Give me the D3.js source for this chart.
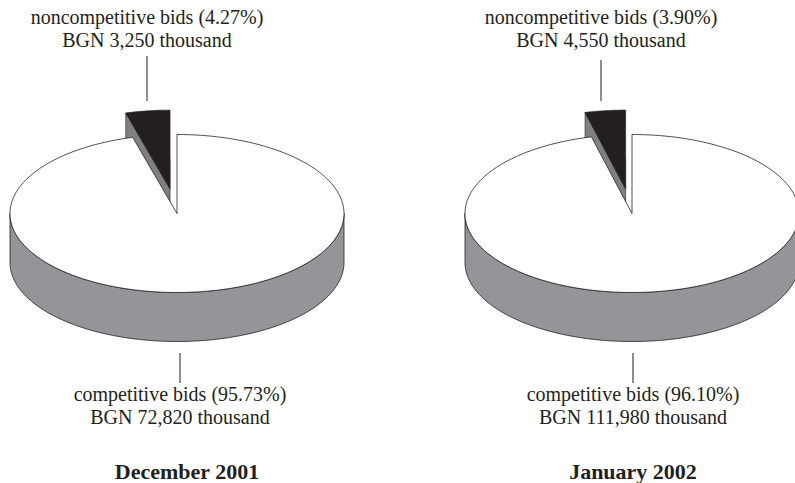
<!DOCTYPE html>
<html><head><meta charset="utf-8">
<script src="https://cdn.jsdelivr.net/npm/d3@7"></script>
<style>
html,body{margin:0;padding:0;background:#fff;}
svg{display:block;}
</style></head>
<body>
<svg id="chart" width="795" height="483"></svg>
<script>
// ---- data ----
const periods = ["December 2001", "January 2002"];
const categories = ["competitive bids", "noncompetitive bids"];
const competitiveValues = [72820, 111980];       // BGN thousand
const noncompetitiveValues = [3250, 4550];       // BGN thousand
const competitiveShares = ["95.73%", "96.10%"];
const noncompetitiveShares = ["4.27%", "3.90%"];
const amountLabels = [["BGN 72,820 thousand", "BGN 3,250 thousand"], ["BGN 111,980 thousand", "BGN 4,550 thousand"]];

// ---- layout ----
const svg = d3.select("#chart");
const FONT = "'Liberation Serif', 'DejaVu Serif', 'Times New Roman', Times, serif";
const centerX = d3.scaleOrdinal().domain(periods).range([177, 632]);
const cy = 213.5, rx = 167, ry = 79, depth = 49;
const explode = 52; // in circle space, scaled by rx
const ink = "#231f20", sideGray = "#939598", faceGray = "#808083", sliceBlack = "#231f20";

const pie = d3.pie().sort(null).value(d => d.value);

function pt(cx, cyy, a) { return [cx + rx * Math.sin(a), cyy - ry * Math.cos(a)]; }

function arcPath(p, cx, cyy, a0, a1, steps) {
  const n = steps || Math.max(8, Math.ceil(Math.abs(a1 - a0) / 0.02));
  for (let i = 0; i <= n; i++) {
    const a = a0 + (a1 - a0) * i / n;
    const [x, y] = pt(cx, cyy, a);
    p.lineTo(x, y);
  }
}

periods.forEach((period, i) => {
  const cx = centerX(period);
  const data = [
    {name: categories[0], value: competitiveValues[i]},
    {name: categories[1], value: noncompetitiveValues[i]}
  ];
  const arcs = pie(data);
  const main = arcs[0], small = arcs[1];
  const g = svg.append("g");

  // exploded small slice
  const mid = (small.startAngle + small.endAngle) / 2;
  const ox = cx + explode * Math.sin(mid);
  const oy = cy - explode * Math.cos(mid) * ry / rx;
  {
    const [x1, y1] = pt(ox, oy, small.startAngle);
    const p = d3.path();
    p.moveTo(ox, oy); p.lineTo(x1, y1); p.lineTo(x1, y1 + depth); p.lineTo(ox, oy + depth); p.closePath();
    g.append("path").attr("d", p.toString()).attr("fill", faceGray).attr("stroke", ink).attr("stroke-width", 0.6).attr("stroke-linejoin", "round");
  }
  {
    const [x2, y2] = pt(ox, oy, small.endAngle);
    g.append("line").attr("x1", ox).attr("y1", oy).attr("x2", x2).attr("y2", y2 + depth)
      .attr("stroke", "#9a9a9c").attr("stroke-width", 1.2);
  }
  {
    const p = d3.path();
    p.moveTo(ox, oy);
    arcPath(p, ox, oy, small.startAngle, small.endAngle);
    p.closePath();
    g.append("path").attr("d", p.toString()).attr("fill", sliceBlack).attr("stroke", ink).attr("stroke-width", 0.6).attr("stroke-linejoin", "round");
  }

  // main pie side wall (front half)
  {
    const p = d3.path();
    const [sx, sy] = pt(cx, cy, Math.PI / 2);
    p.moveTo(sx, sy);
    arcPath(p, cx, cy, Math.PI / 2, 3 * Math.PI / 2);
    const [ex, ey] = pt(cx, cy, 3 * Math.PI / 2);
    p.lineTo(ex, ey + depth);
    arcPath(p, cx, cy + depth, 3 * Math.PI / 2, Math.PI / 2);
    p.closePath();
    g.append("path").attr("d", p.toString()).attr("fill", sideGray).attr("stroke", ink).attr("stroke-width", 0.8).attr("stroke-linejoin", "round");
  }
  // main pie top face
  {
    const p = d3.path();
    p.moveTo(cx, cy);
    const [sx, sy] = pt(cx, cy, main.startAngle);
    p.lineTo(sx, sy);
    arcPath(p, cx, cy, main.startAngle, main.endAngle);
    p.closePath();
    g.append("path").attr("d", p.toString()).attr("fill", "#fff").attr("stroke", ink).attr("stroke-width", 0.8).attr("stroke-linejoin", "miter");
  }

  // labels
  const lx = i === 0 ? 147 : 601;
  const T = (x, y, s, size, weight) => g.append("text").attr("x", x).attr("y", y)
    .attr("text-anchor", "middle").attr("font-family", FONT).attr("font-size", size)
    .attr("font-weight", weight || "normal").attr("fill", ink).text(s);

  g.append("line").attr("x1", lx).attr("x2", lx).attr("y1", i === 0 ? 56 : 60).attr("y2", 101)
    .attr("stroke", ink).attr("stroke-width", 1);
  T(lx, 24, `${categories[1]} (${noncompetitiveShares[i]})`, 20);
  T(lx, 47, amountLabels[i][1], 20);

  const bx = i === 0 ? 180 : 633;
  g.append("line").attr("x1", bx).attr("x2", bx).attr("y1", 353).attr("y2", 383)
    .attr("stroke", ink).attr("stroke-width", 1);
  T(bx, 401, `${categories[0]} (${competitiveShares[i]})`, 20);
  T(bx, 424, amountLabels[i][0], 20);

  T(i === 0 ? 187 : 633, 479, period, 22, "bold");
});
</script>
</body></html>
